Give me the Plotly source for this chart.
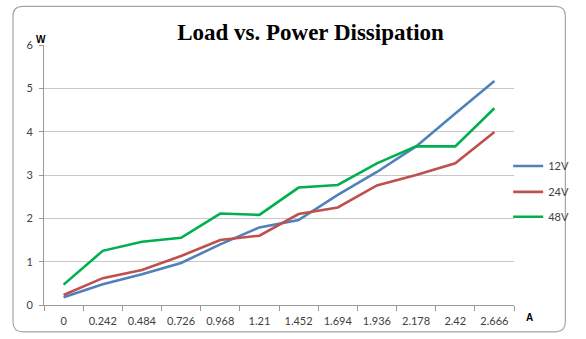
import plotly.graph_objects as go

# Load current (A) categories and dissipated power (W) per supply voltage
currents = ["0", "0.242", "0.484", "0.726", "0.968", "1.21", "1.452", "1.694",
            "1.936", "2.178", "2.42", "2.666"]
power_12v = [0.18, 0.48, 0.71, 0.97, 1.40, 1.79, 1.96, 2.54, 3.07, 3.66, 4.42, 5.17]
power_24v = [0.23, 0.62, 0.81, 1.13, 1.50, 1.60, 2.10, 2.25, 2.76, 3.00, 3.27, 3.99]
power_48v = [0.47, 1.25, 1.46, 1.55, 2.11, 2.08, 2.71, 2.77, 3.27, 3.66, 3.66, 4.54]
y_ticks = [0, 1, 2, 3, 4, 5, 6]

series = [("12V", power_12v, "#4F81BD", "legend", 167),
          ("24V", power_24v, "#C0504D", "legend2", 193),
          ("48V", power_48v, "#00B050", "legend3", 218)]

W, H = 586, 339
ML, MR, MT, MB = 44, 57, 45, 32
PW, PH = W - ML - MR, H - MT - MB


def px(x):
    return (x - ML) / PW


def py(y):
    return (H - MB - y) / PH


idx = list(range(len(currents)))
fig = go.Figure()
for name, vals, color, leg, _ in series:
    fig.add_trace(go.Scatter(x=idx, y=vals, name=name, mode="lines", legend=leg,
                             line=dict(color=color, width=2.6)))

# invisible trace carrying the category-boundary tick marks
fig.add_trace(go.Scatter(x=[-0.5, len(currents) - 0.5], y=[None, None],
                         xaxis="x2", showlegend=False, hoverinfo="skip"))

# rounded chart border
x0, x1, y0, y1, r = px(12), px(582), py(334), py(6), 10
rx, ry = r / PW, r / PH
border = (f"M {x0+rx},{y1} L {x1-rx},{y1} Q {x1},{y1} {x1},{y1-ry} "
          f"L {x1},{y0+ry} Q {x1},{y0} {x1-rx},{y0} L {x0+rx},{y0} "
          f"Q {x0},{y0} {x0},{y0+ry} L {x0},{y1-ry} Q {x0},{y1} {x0+rx},{y1} Z")

tick_font = dict(family="Lato, Liberation Sans, sans-serif", size=11, color="#404040")

legends = {}
for name, vals, color, leg, ypix in series:
    legends[leg] = dict(x=px(523), y=py(ypix), xanchor="left", yanchor="middle",
                        font=dict(family="Lato, Liberation Sans, sans-serif", size=11,
                                  color="#404040"),
                        itemwidth=30, bgcolor="rgba(0,0,0,0)")

fig.update_layout(
    width=W, height=H,
    margin=dict(l=ML, r=MR, t=MT, b=MB),
    paper_bgcolor="white", plot_bgcolor="white",
    title=dict(text="<b>Load vs. Power Dissipation</b>", x=px(301), xanchor="center",
               y=1 - 32 / H, yanchor="middle",
               font=dict(family="Liberation Serif, Times New Roman, serif", size=23,
                         color="#000000")),
    xaxis=dict(range=[-0.5, len(currents) - 0.5], tickmode="array", tickvals=idx,
               ticktext=currents, showgrid=False, zeroline=False,
               showline=False, ticks="", tickfont=tick_font, ticklabelstandoff=8),
    xaxis2=dict(overlaying="x", range=[-0.5, len(currents) - 0.5], side="bottom",
                tickmode="array", tickvals=[i - 0.5 for i in range(len(currents) + 1)],
                showticklabels=False, ticks="outside", ticklen=5, tickcolor="#9A9A9A",
                showline=True, linecolor="#9A9A9A", linewidth=1, showgrid=False,
                zeroline=False),
    yaxis=dict(range=[0, 6], tickmode="array", tickvals=y_ticks,
               showgrid=True, gridcolor="#C8C8C8", gridwidth=1, zeroline=False,
               showline=True, linecolor="#9A9A9A", linewidth=1,
               ticks="outside", ticklen=4, tickcolor="#9A9A9A",
               tickfont=tick_font, ticklabelstandoff=4),
    shapes=[dict(type="path", path=border, xref="paper", yref="paper",
                 line=dict(color="#A6A6A6", width=1.2), layer="below")],
    annotations=[
        dict(text="<b>W</b>", x=px(41), y=py(39), xref="paper", yref="paper",
             showarrow=False, xanchor="center", yanchor="middle",
             font=dict(family="Liberation Sans, sans-serif", size=10, color="#000000")),
        dict(text="<b>A</b>", x=px(545), y=py(320), xref="paper", yref="paper",
             showarrow=False, xanchor="center", yanchor="middle",
             font=dict(family="Liberation Sans, sans-serif", size=10, color="#000000")),
    ],
    **legends,
)

fig.write_html("out.html")
